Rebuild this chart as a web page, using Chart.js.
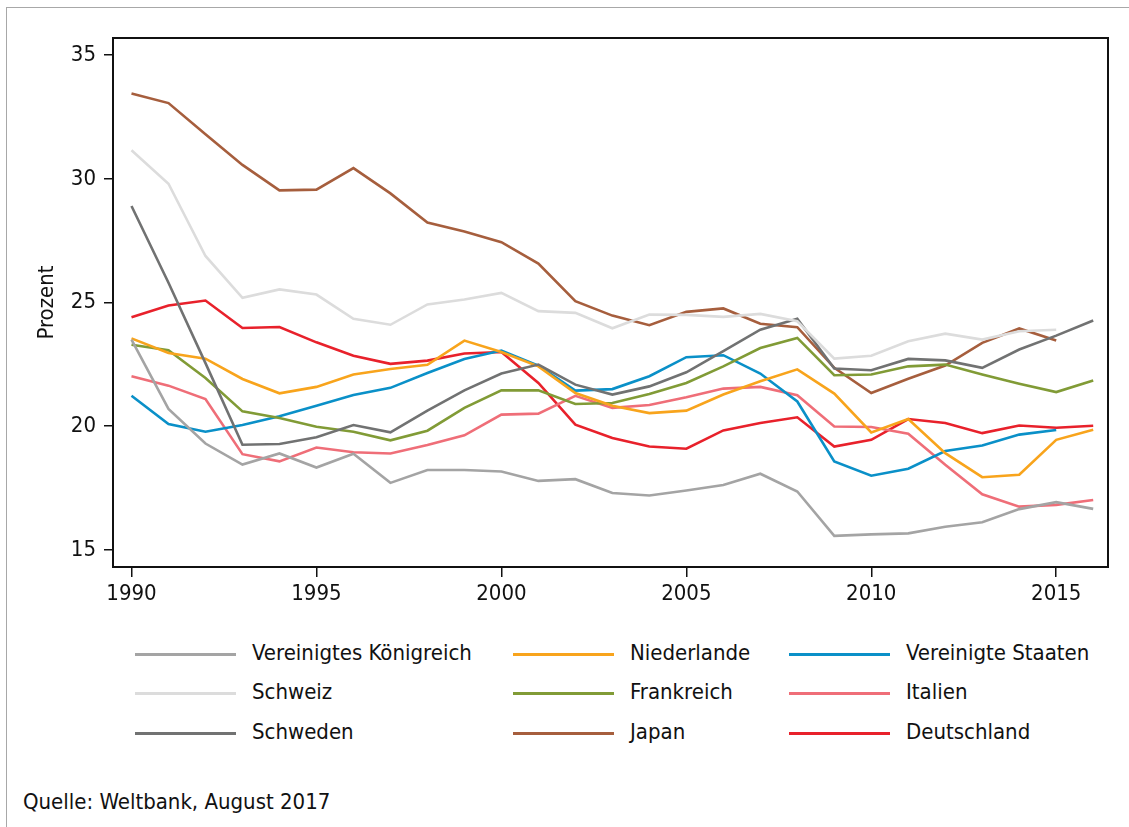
<!DOCTYPE html>
<html>
<head>
<meta charset="utf-8">
<script src="https://cdn.jsdelivr.net/npm/chart.js@4"></script>
<style>
  body { margin: 0; background: #fff; font-family: "Liberation Sans Narrow", "DejaVu Sans Condensed", sans-serif; }
  #page { position: relative; width: 1129px; height: 827px; overflow: hidden; }
  #frame { position: absolute; left: 6px; top: 7px; right: -10px; bottom: -10px;
           border-left: 1.5px solid #a8a8a8; border-top: 1.5px solid #a8a8a8; }
  #chart { position: absolute; left: 0; top: 0; }
  .leg { position: absolute; font-size: 22px; color: #111; line-height: 26px; }
  .legline { position: absolute; height: 3px; width: 101px; }
  #source { position: absolute; left: 23px; top: 789px; font-size: 22px; color: #111; }
</style>
</head>
<body>
<div id="page">
  <div id="frame"></div>
  <canvas id="chart" width="1129" height="620"></canvas>
  <div id="legend"></div>
  <div id="source">Quelle: Weltbank, August 2017</div>
</div>
<script>
const years = [1990, 1991, 1992, 1993, 1994, 1995, 1996, 1997, 1998, 1999, 2000, 2001, 2002,
  2003, 2004, 2005, 2006, 2007, 2008, 2009, 2010, 2011, 2012, 2013, 2014, 2015, 2016];

const xTicks = [1990, 1995, 2000, 2005, 2010, 2015];
const yTicks = [15, 20, 25, 30, 35];

const uk = [23.5, 20.7, 19.3, 18.45, 18.9, 18.33, 18.89, 17.71, 18.23, 18.23, 18.17, 17.79, 17.86,
  17.3, 17.2, 17.4, 17.62, 18.08, 17.36, 15.57, 15.63, 15.67, 15.94, 16.12, 16.65, 16.93, 16.66];
const schweiz = [31.15, 29.8, 26.88, 25.19, 25.53, 25.32, 24.34, 24.1, 24.92, 25.12, 25.39, 24.65, 24.58,
  23.96, 24.51, 24.5, 24.42, 24.54, 24.24, 22.73, 22.85, 23.43, 23.74, 23.5, 23.84, 23.9, null];
const schweden = [28.9, 25.8, 22.55, 19.25, 19.28, 19.55, 20.05, 19.75, 20.63, 21.45, 22.13, 22.49, 21.68,
  21.28, 21.61, 22.18, 23.03, 23.9, 24.34, 22.33, 22.26, 22.72, 22.66, 22.36, 23.1, 23.66, 24.27];
const niederlande = [23.55, 22.96, 22.73, 21.91, 21.33, 21.59, 22.09, 22.31, 22.48, 23.46, 23.0, 22.42, 21.34,
  20.83, 20.53, 20.63, 21.28, 21.82, 22.3, 21.32, 19.75, 20.29, 18.91, 17.94, 18.04, 19.45, 19.86];
const frankreich = [23.29, 23.07, 21.95, 20.6, 20.33, 19.98, 19.78, 19.43, 19.82, 20.74, 21.45, 21.45, 20.9,
  20.94, 21.3, 21.75, 22.42, 23.16, 23.57, 22.06, 22.09, 22.42, 22.49, 22.09, 21.72, 21.38, 21.85];
const japan = [33.45, 33.06, 31.8, 30.56, 29.53, 29.56, 30.43, 29.41, 28.23, 27.87, 27.44, 26.57, 25.05,
  24.47, 24.08, 24.62, 24.76, 24.14, 24.0, 22.36, 21.34, 21.92, 22.45, 23.37, 23.95, 23.46, null];
const usa = [21.23, 20.09, 19.78, 20.05, 20.4, 20.83, 21.26, 21.55, 22.15, 22.72, 23.06, 22.45, 21.44,
  21.5, 22.02, 22.79, 22.87, 22.13, 21.0, 18.58, 18.0, 18.28, 19.0, 19.22, 19.66, 19.85, null];
const italien = [22.02, 21.64, 21.1, 18.87, 18.58, 19.14, 18.95, 18.9, 19.24, 19.63, 20.47, 20.51, 21.23,
  20.74, 20.86, 21.17, 21.52, 21.59, 21.25, 19.99, 19.97, 19.7, 18.44, 17.25, 16.75, 16.82, 17.02];
const deutschland = [24.4, 24.88, 25.08, 23.97, 24.01, 23.39, 22.85, 22.52, 22.65, 22.94, 23.0, 21.75, 20.06,
  19.52, 19.18, 19.09, 19.83, 20.13, 20.36, 19.18, 19.45, 20.29, 20.13, 19.72, 20.03, 19.94, 20.02];

// legend order is column by column
const series = [
  { label: "Vereinigtes Königreich", data: uk, color: "#a4a4a4" },
  { label: "Schweiz", data: schweiz, color: "#dcdcdc" },
  { label: "Schweden", data: schweden, color: "#717272" },
  { label: "Niederlande", data: niederlande, color: "#f8a41c" },
  { label: "Frankreich", data: frankreich, color: "#819b36" },
  { label: "Japan", data: japan, color: "#a65e3d" },
  { label: "Vereinigte Staaten", data: usa, color: "#0a90c8" },
  { label: "Italien", data: italien, color: "#ef6e78" },
  { label: "Deutschland", data: deutschland, color: "#e8212b" }
];

const font = { family: '"Liberation Sans Narrow", "DejaVu Sans Condensed", sans-serif', size: 22 };

const boxPlugin = {
  id: "box",
  afterDraw(chart) {
    const { ctx, chartArea: a } = chart;
    ctx.save();
    ctx.strokeStyle = "#111";
    ctx.lineWidth = 2;
    ctx.strokeRect(a.left, a.top, a.right - a.left, a.bottom - a.top);
    ctx.restore();
  }
};

new Chart(document.getElementById("chart"), {
  type: "line",
  data: {
    datasets: series.map(s => ({
      label: s.label,
      data: years.map((y, i) => ({ x: y, y: s.data[i] })),
      borderColor: s.color,
      backgroundColor: s.color,
      borderWidth: 2.6,
      pointRadius: 0,
      tension: 0,
      spanGaps: false
    }))
  },
  options: {
    responsive: false,
    animation: false,
    layout: { padding: { top: 38, right: 21, left: 0, bottom: 0 } },
    plugins: { legend: { display: false }, tooltip: { enabled: false } },
    scales: {
      x: {
        type: "linear",
        min: 1989.5,
        max: 2016.4,
        afterBuildTicks: (scale) => { scale.ticks = xTicks.map(v => ({ value: v })); },
        afterFit: (scale) => { scale.height = 53; },
        border: { display: false },
        grid: { display: true, drawOnChartArea: false, drawTicks: true, tickLength: 10, color: "#111", lineWidth: 1.5 },
        ticks: { font, color: "#111", padding: 4, maxRotation: 0, callback: v => String(v) }
      },
      y: {
        min: 14.31,
        max: 35.69,
        afterBuildTicks: (scale) => { scale.ticks = yTicks.map(v => ({ value: v })); },
        afterFit: (scale) => { scale.width = 113; },
        border: { display: false },
        grid: { display: true, drawOnChartArea: false, drawTicks: true, tickLength: 9, color: "#111", lineWidth: 1.5 },
        ticks: { font, color: "#111", padding: 8, callback: v => String(v) },
        title: { display: true, text: "Prozent", font, color: "#111", padding: { top: 34, bottom: 0 } }
      }
    }
  },
  plugins: [boxPlugin]
});

// legend: three columns, three rows
const legendCols = [{ line: 135, text: 252 }, { line: 513, text: 630 }, { line: 789, text: 906 }];
const legendRows = [654, 693, 733];
const legend = document.getElementById("legend");
series.forEach((s, i) => {
  const col = legendCols[Math.floor(i / 3)];
  const rowY = legendRows[i % 3];
  const ln = document.createElement("div");
  ln.className = "legline";
  ln.style.left = col.line + "px";
  ln.style.top = (rowY - 1.5) + "px";
  ln.style.background = s.color;
  legend.appendChild(ln);
  const tx = document.createElement("div");
  tx.className = "leg";
  tx.style.left = col.text + "px";
  tx.style.top = (rowY - 14) + "px";
  tx.textContent = s.label;
  legend.appendChild(tx);
});
</script>
</body>
</html>
